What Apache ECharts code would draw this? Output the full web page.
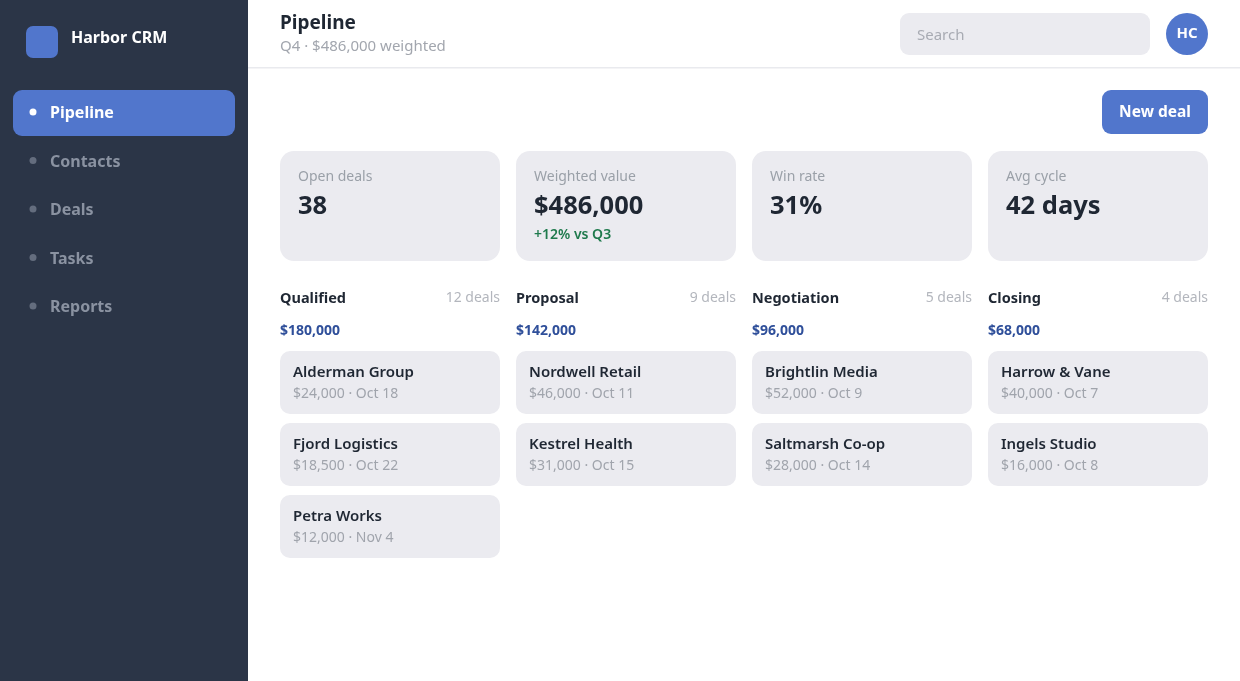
<!DOCTYPE html>
<html>
<head>
<meta charset="utf-8">
<title>Harbor CRM - Pipeline</title>
<script src="https://cdn.jsdelivr.net/npm/echarts@6/dist/echarts.min.js"></script>
<style>
  html, body { margin: 0; padding: 0; background: #fff; }
  #main { width: 1240px; height: 681px; }
</style>
</head>
<body>
<div id="main"></div>
<script>
// data
var navItems = ["Pipeline", "Contacts", "Deals", "Tasks", "Reports"];
var kpiLabels = ["Open deals", "Weighted value", "Win rate", "Avg cycle"];
var kpiValues = ["38", "$486,000", "31%", "42 days"];
var kpiNotes = ["", "+12% vs Q3", "", ""];
var stages = ["Qualified", "Proposal", "Negotiation", "Closing"];
var stageCounts = [12, 9, 5, 4];
var stageTotals = [180000, 142000, 96000, 68000];
var dealNames = [
  ["Alderman Group", "Fjord Logistics", "Petra Works"],
  ["Nordwell Retail", "Kestrel Health"],
  ["Brightlin Media", "Saltmarsh Co-op"],
  ["Harrow & Vane", "Ingels Studio"]
];
var dealAmounts = [
  [24000, 18500, 12000],
  [46000, 31000],
  [52000, 28000],
  [40000, 16000]
];
var dealDates = [
  ["Oct 18", "Oct 22", "Nov 4"],
  ["Oct 11", "Oct 15"],
  ["Oct 9", "Oct 14"],
  ["Oct 7", "Oct 8"]
];

var FONT = '"Noto Sans", sans-serif';
var BLUE = "#5176cc";
var CARD = "#ebebf0";
var DARK = "#1f2733";

function money(v) {
  return "$" + v.toLocaleString("en-US");
}

// noto sits a bit high on "middle", push it down a little
function txt(x, y, s, size, weight, color, align) {
  return {
    type: "text",
    style: {
      x: x, y: y + 1.5, text: s,
      font: weight + " " + size + "px " + FONT,
      fill: color,
      textAlign: align || "left",
      textVerticalAlign: "middle",
      align: align || "left",
      verticalAlign: "middle"
    }
  };
}

function box(x, y, w, h, r, color) {
  return {
    type: "rect",
    shape: { x: x, y: y, width: w, height: h, r: r },
    style: { fill: color }
  };
}

var els = [];

// sidebar
els.push(box(0, 0, 248, 681, 0, "#2b3547"));
els.push(box(26, 26, 32, 32, 7, BLUE));
els.push(txt(71, 37, "Harbor CRM", 16, "bold", "#ffffff"));
navItems.forEach(function (name, i) {
  var cy = 112 + i * 48.5;
  var active = i === 0;
  if (active) els.push(box(13, 90, 222, 46, 9, BLUE));
  els.push({
    type: "circle",
    shape: { cx: 33, cy: cy, r: 3.5 },
    style: { fill: active ? "#ffffff" : "#646d7e" }
  });
  els.push(txt(50, cy, name, 16, "bold", active ? "#ffffff" : "#8a92a1"));
});

// header
els.push(txt(280, 22, "Pipeline", 19, "bold", DARK));
els.push(txt(280, 45, "Q4 · " + money(486000) + " weighted", 15, "normal", "#a2a6ae"));
els.push(box(248, 67, 992, 1.5, 0, "#e9eaee"));
els.push(box(900, 13, 250, 42, 9, CARD));
els.push(txt(917, 34, "Search", 15, "normal", "#a8abb3"));
els.push({
  type: "circle",
  shape: { cx: 1187, cy: 34, r: 21 },
  style: { fill: BLUE }
});
els.push(txt(1187, 32, "HC", 15, "bold", "#ffffff", "center"));

// new deal button
els.push(box(1102, 90, 106, 44, 9, BLUE));
els.push(txt(1155, 111, "New deal", 15.5, "bold", "#ffffff", "center"));

// kpi cards
kpiLabels.forEach(function (label, i) {
  var x = 280 + i * 236;
  els.push(box(x, 151, 220, 110, 14, CARD));
  els.push(txt(x + 18, 176, label, 14, "normal", "#9aa0a8"));
  els.push(txt(x + 18, 205, kpiValues[i], 25.5, "bold", DARK));
  if (kpiNotes[i]) els.push(txt(x + 18, 234, kpiNotes[i], 14, "600", "#1f7a4d"));
});

// stage columns
stages.forEach(function (stage, i) {
  var x = 280 + i * 236;
  els.push(txt(x, 297, stage, 14.5, "bold", DARK));
  els.push(txt(x + 220, 297, stageCounts[i] + " deals", 14, "normal", "#b3b6bd", "right"));
  els.push(txt(x, 330, money(stageTotals[i]), 14, "bold", "#2f4f9a"));
  dealNames[i].forEach(function (name, j) {
    var y = 351 + j * 72;
    els.push(box(x, y, 220, 63, 10, CARD));
    els.push(txt(x + 13, y + 20, name, 15, "600", DARK));
    els.push(txt(x + 13, y + 42, money(dealAmounts[i][j]) + " · " + dealDates[i][j], 14, "normal", "#a0a4ac"));
  });
});

var myChart = echarts.init(document.getElementById("main"), null, { renderer: "canvas" });
myChart.setOption({
  animation: false,
  graphic: { elements: els }
});
</script>
</body>
</html>
